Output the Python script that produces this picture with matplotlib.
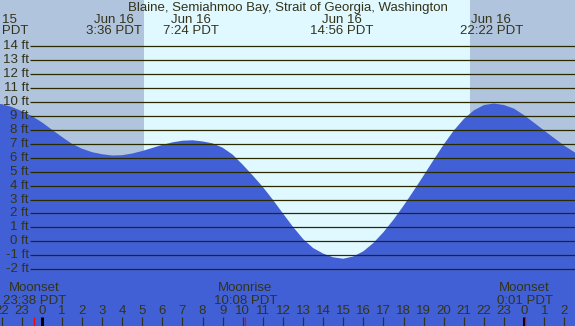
import matplotlib
matplotlib.use("Agg")
from matplotlib import pyplot as plt

plt.rcParams['font.family'] = ['Liberation Sans', 'DejaVu Sans']

# tide height (ft), every half hour, hours relative to Jun 16 00:00 PDT
hours = [-2.5, -2.0, -1.5, -1.0, -0.5, 0.0, 0.5, 1.0, 1.5, 2.0, 2.5, 3.0, 3.5,
         4.0, 4.5, 5.0, 5.5, 6.0, 6.5, 7.0, 7.5, 8.0, 8.5, 9.0, 9.5, 10.0,
         10.5, 11.0, 11.5, 12.0, 12.5, 13.0, 13.5, 14.0, 14.5, 15.0, 15.5,
         16.0, 16.5, 17.0, 17.5, 18.0, 18.5, 19.0, 19.5, 20.0, 20.5, 21.0,
         21.5, 22.0, 22.5, 23.0, 23.5, 24.0, 24.5, 25.0, 25.5, 26.0, 26.5, 27.0]
heights = [9.88, 9.85, 9.65, 9.35, 9.0, 8.55, 8.02, 7.5, 7.0, 6.65, 6.4, 6.25,
           6.16, 6.18, 6.3, 6.48, 6.7, 6.92, 7.1, 7.22, 7.25, 7.17, 7.03, 6.72,
           6.22, 5.5, 4.72, 3.9, 2.98, 2.0, 1.04, 0.17, -0.48, -0.88, -1.15,
           -1.25, -1.09, -0.72, -0.12, 0.65, 1.55, 2.55, 3.62, 4.72, 5.85, 6.95,
           7.95, 8.78, 9.4, 9.78, 9.89, 9.78, 9.52, 9.05, 8.5, 7.95, 7.4, 6.86,
           6.4, 5.95]

tide_times = [-2.25, 3.6, 7.4, 14.93, 22.37]
tide_dates = ["Jun 15", "Jun 16", "Jun 16", "Jun 16", "Jun 16"]
tide_clock = ["21:45 PDT", "3:36 PDT", "7:24 PDT", "14:56 PDT", "22:22 PDT"]

sunrise = 5.09
sunset = 21.31

moon_times = [-0.37, 10.13, 24.02]
moon_events = ["Moonset", "Moonrise", "Moonset"]
moon_clock = ["23:38 PDT", "10:08 PDT", "0:01 PDT"]

levels = list(range(-2, 15))
hour_ticks = list(range(-2, 27))

title = "Blaine, Semiahmoo Bay, Strait of Georgia, Washington"

night_color = "#b0c4de"
day_color = "#e0f8ff"
water_color = "#4160d6"
ink = "#33331a"
fs = 9.5

W, H = 575, 326
x0, x1 = -2.075, 26.53
y0, y1 = -6.08, 17.32

fig = plt.figure(figsize=(W / 100, H / 100), dpi=100)
ax = fig.add_axes([0, 0, 1, 1])
ax.set_xlim(x0, x1)
ax.set_ylim(y0, y1)
ax.axis('off')

ax.axvspan(x0, sunrise, color=night_color, lw=0)
ax.axvspan(sunrise, sunset, color=day_color, lw=0)
ax.axvspan(sunset, x1, color=night_color, lw=0)

ax.fill_between(hours, heights, y0, color=water_color, lw=0, zorder=2)

ax.hlines(levels, -0.58, x1, color="#2a2a00", lw=0.9, zorder=3)
for lv in levels:
    ax.text(-0.64, lv, f"{lv} ft", ha='right', va='center', fontsize=fs,
            color=ink, zorder=4)

tr = ax.get_xaxis_transform()

ax.text(0.5, 1 - 8 / H, title, transform=ax.transAxes, ha='center',
        va='center', fontsize=fs, color=ink)
for t, d, c in zip(tide_times, tide_dates, tide_clock):
    ax.text(t, 1 - 20 / H, d, transform=tr, ha='center', va='center',
            fontsize=fs, color=ink)
    ax.text(t, 1 - 31.5 / H, c, transform=tr, ha='center', va='center',
            fontsize=fs, color=ink)

for t, e, c in zip(moon_times, moon_events, moon_clock):
    ax.text(t, (H - 288) / H, e, transform=tr, ha='center', va='center',
            fontsize=fs, color=ink, zorder=5)
    ax.text(t, (H - 300.5) / H, c, transform=tr, ha='center', va='center',
            fontsize=fs, color=ink, zorder=5)

for h in hour_ticks:
    ax.text(h, (H - 311) / H, str(h % 24), transform=tr, ha='center',
            va='center', fontsize=fs, color=ink, zorder=5)
    midnight = h % 24 == 0
    ax.vlines(h, 0, 8.7 / H, transform=tr, color="black" if midnight else ink,
              lw=2.2 if midnight else 0.9, zorder=5)
ax.vlines(moon_times, 0, 8.7 / H, transform=tr, color="red", lw=0.9, zorder=6)

fig.savefig("out.png", dpi=100)
